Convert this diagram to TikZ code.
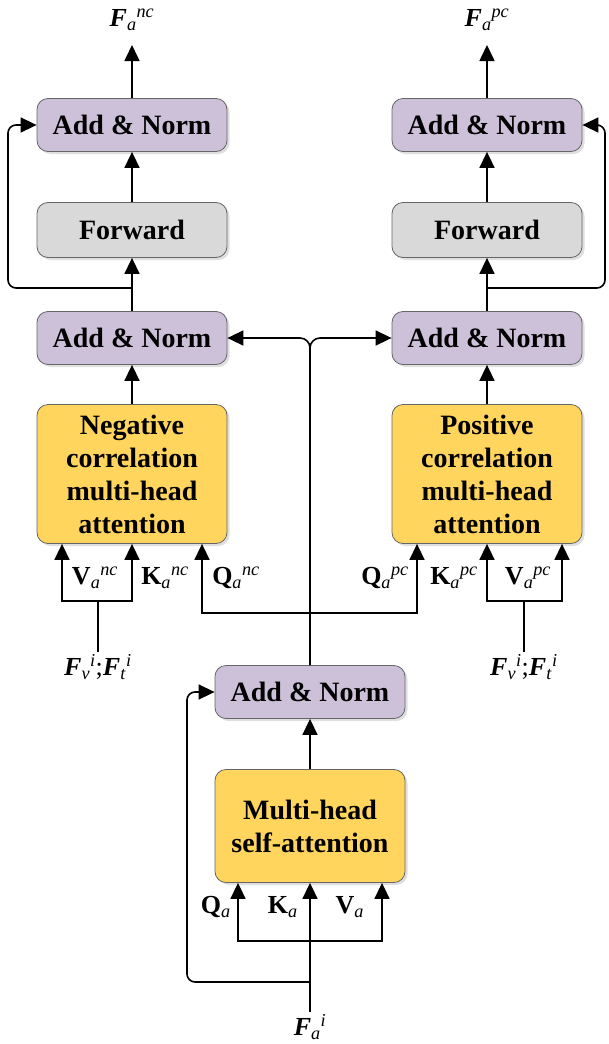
\documentclass[tikz,border=0pt]{standalone}
\usepackage{fontspec}
\setmainfont{Liberation Serif}
\usetikzlibrary{arrows.meta,shadows}

\definecolor{normfill}{RGB}{205,193,218}
\definecolor{fwdfill}{RGB}{217,217,217}
\definecolor{attfill}{RGB}{255,213,94}

\newcommand*{\colL}{132}
\newcommand*{\colR}{487}
\newcommand*{\colM}{310}

% letter, subscript, superscript side by side
\newcommand*{\qkv}[3]{#1\textsubscript{\textit{#2}}\textsuperscript{\textit{#3}}}

\begin{document}
\begin{tikzpicture}
[
	x=1pt, y=-1pt,
	box/.style={draw=black!60,line width=0.8pt,rounded corners=11pt,align=center,minimum width=190pt,
		font=\fontsize{28}{33}\selectfont\bfseries,
		drop shadow={opacity=0.25,shadow xshift=2.5pt,shadow yshift=-2.5pt}},
	norm/.style={box,fill=normfill,minimum height=53pt},
	fwd/.style={box,fill=fwdfill,minimum height=55pt},
	att/.style={box,fill=attfill},
	lbl/.style={inner sep=2pt,font=\fontsize{26}{28}\selectfont},
	arr/.style={-{Triangle[length=16pt,width=15pt]},line width=1.6pt},
	wire/.style={line width=1.6pt}
]
	\useasboundingbox (0,0) rectangle (608,1044);

	% left column
	\node[norm] (addTopL) at (\colL,125) {Add \& Norm};
	\node[fwd] (fwdL) at (\colL,230) {Forward};
	\node[norm] (addMidL) at (\colL,338) {Add \& Norm};
	\node[att,minimum height=139pt] (negAtt) at (\colL,474) {Negative\\correlation\\multi-head\\attention};

	% right column
	\node[norm] (addTopR) at (\colR,125) {Add \& Norm};
	\node[fwd] (fwdR) at (\colR,230) {Forward};
	\node[norm] (addMidR) at (\colR,338) {Add \& Norm};
	\node[att,minimum height=139pt] (posAtt) at (\colR,474) {Positive\\correlation\\multi-head\\attention};

	% self attention
	\node[norm] (addBot) at (\colM,692) {Add \& Norm};
	\node[att,minimum height=113pt] (selfAtt) at (\colM,826) {Multi-head\\self-attention};

	% outputs
	\node[lbl] (Fnc) at (\colL,20) {\qkv{\textbf{\textit{F}}}{a}{nc}};
	\node[lbl] (Fpc) at (\colR,20) {\qkv{\textbf{\textit{F}}}{a}{pc}};
	\coordinate (outL) at (\colL,45);
	\coordinate (outR) at (\colR,45);
	\draw[arr] (addTopL) -- (outL);
	\draw[arr] (addTopR) -- (outR);

	% stacks
	\draw[arr] (fwdL) -- (addTopL);
	\draw[arr] (addMidL) -- (fwdL);
	\draw[arr] (negAtt) -- (addMidL);
	\draw[arr] (fwdR) -- (addTopR);
	\draw[arr] (addMidR) -- (fwdR);
	\draw[arr] (posAtt) -- (addMidR);
	\draw[arr] (selfAtt) -- (addBot);

	% residuals round forward
	\coordinate (brL) at (\colL,288);
	\coordinate (brR) at (\colR,288);
	\draw[arr,rounded corners=8pt] (brL) -- (8,288) |- (addTopL.west);
	\draw[arr,rounded corners=8pt] (brR) -- (605,288) |- (addTopR.east);

	% trunk
	\draw[arr,rounded corners=10pt] (addBot.north) |- (addMidL.east);
	\draw[arr,rounded corners=10pt] (addBot.north) |- (addMidR.west);

	% queries
	\coordinate (qSplit) at (\colM,613);
	\draw[arr] (qSplit) -| ([xshift=70pt]negAtt.south);
	\draw[arr] (qSplit) -| ([xshift=-70pt]posAtt.south);

	% keys and values
	\node[lbl] (fvL) at (98,667) {\qkv{\textbf{\textit{F}}}{v}{i};\qkv{\textbf{\textit{F}}}{t}{i}};
	\node[lbl] (fvR) at (524,667) {\qkv{\textbf{\textit{F}}}{v}{i};\qkv{\textbf{\textit{F}}}{t}{i}};
	\coordinate (vkL) at (98,601);
	\coordinate (vkR) at (524,601);
	\draw[wire] (fvL) -- (vkL);
	\draw[wire] (fvR) -- (vkR);
	\draw[arr] (vkL) -| ([xshift=-70pt]negAtt.south);
	\draw[arr] (vkL) -| (negAtt.south);
	\draw[arr] (vkR) -| (posAtt.south);
	\draw[arr] (vkR) -| ([xshift=75pt]posAtt.south);

	\node[lbl] (vncL) at (95,578) {\qkv{\textbf{V}}{a}{nc}};
	\node[lbl] (kncL) at (165,578) {\qkv{\textbf{K}}{a}{nc}};
	\node[lbl] (qncL) at (236,578) {\qkv{\textbf{Q}}{a}{nc}};
	\node[lbl] (qpcL) at (385,578) {\qkv{\textbf{Q}}{a}{pc}};
	\node[lbl] (kpcL) at (454,578) {\qkv{\textbf{K}}{a}{pc}};
	\node[lbl] (vpcL) at (528,578) {\qkv{\textbf{V}}{a}{pc}};

	% input
	\node[lbl] (Fai) at (\colM,1027) {\qkv{\textbf{\textit{F}}}{a}{i}};
	\coordinate (qkvBot) at (\colM,941);
	\coordinate (inBot) at (\colM,982);
	\draw[arr] (Fai) -- (selfAtt);
	\draw[arr] (qkvBot) -| ([xshift=-72pt]selfAtt.south);
	\draw[arr] (qkvBot) -| ([xshift=72pt]selfAtt.south);
	\draw[arr,rounded corners=8pt] (inBot) -- (187,982) |- (addBot.west);

	\node[lbl] (qLbl) at (216,907) {\qkv{\textbf{Q}}{a}{}};
	\node[lbl] (kLbl) at (283,907) {\qkv{\textbf{K}}{a}{}};
	\node[lbl] (vLbl) at (350,907) {\qkv{\textbf{V}}{a}{}};

\end{tikzpicture}
\end{document}
